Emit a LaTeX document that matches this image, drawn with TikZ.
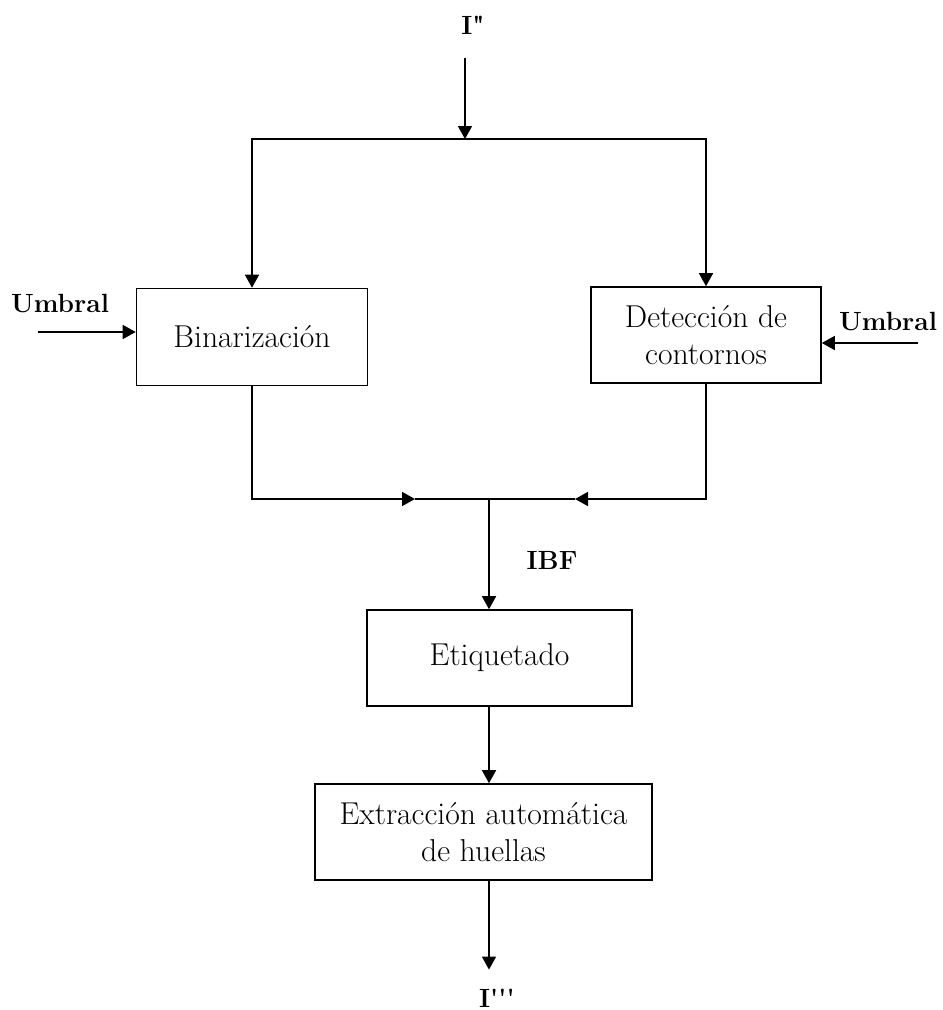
\documentclass[tikz,border=0pt]{standalone}
\usepackage{tikz}
\usetikzlibrary{arrows.meta}
\tikzstyle{boxes} = [rectangle, minimum height=1.94cm, text centered, align=center,
draw=black, line width=0.9pt, font=\fontsize{18}{21}\selectfont]
\tikzstyle{arrow} = [line width=0.9pt, -{Triangle[length=0.26cm,width=0.28cm]}]
\tikzstyle{wire} = [line width=0.9pt]
\tikzstyle{sig} = [font=\fontsize{15}{18}\selectfont\bfseries]

\begin{document}
\begin{tikzpicture}
        \useasboundingbox (0,0) rectangle (18.86,-20.2);

        \node[sig] (ii) at (9.46,-0.5) {I\textquotedbl};
        \node[boxes, minimum width=4.62cm, below of=ii, xshift=-4.42cm, yshift=-5.24cm] (bin) {Binarizaci\'on};
        \node[boxes, minimum width=4.6cm, minimum height=1.92cm, below of=ii, xshift=4.66cm, yshift=-5.2cm] (det) {Detecci\'on de\\contornos};
        \node[boxes, minimum width=5.3cm, minimum height=1.92cm, below of=ii, xshift=0.53cm, yshift=-11.66cm] (eti) {Etiquetado};
        \node[boxes, minimum width=6.74cm, minimum height=1.92cm, below of=eti, xshift=-0.32cm, yshift=-2.48cm] (ext) {Extracci\'on autom\'atica\\de huellas};
        \node[sig, below of=ext, xshift=0.27cm, yshift=-2.32cm] (iii) {I\textquotesingle\textquotesingle\textquotesingle};

        \node[sig, left of=bin, xshift=-2.84cm, yshift=0.66cm] (umbl) {Umbral};
        \node[sig, right of=det, xshift=2.64cm, yshift=0.26cm] (umbr) {Umbral};
        \node[sig, above of=eti, xshift=1.05cm, yshift=0.96cm] (ibf) {IBF};

        \coordinate (split) at (9.30,-2.78);
        \coordinate (join) at (9.78,-9.98);
        \coordinate (ml) at (8.30,-9.98);
        \coordinate (mr) at (11.50,-9.98);
        \coordinate (inl) at (0.76,-6.64);
        \coordinate (inr) at (18.36,-6.86);

        \draw[arrow, shorten <=0.35cm] (ii.south -| split) -- (split);
        \draw[arrow] (split) -| (bin.north);
        \draw[arrow] (split) -| (det.north);

        \draw[arrow] (inl) -- (inl -| bin.west);
        \draw[arrow] (inr) -- (inr -| det.east);

        \draw[arrow] (bin.south) |- (ml);
        \draw[wire] (ml) -- (join);
        \draw[arrow] (det.south) |- (mr);
        \draw[wire] (mr) -- (join);

        \draw[arrow] (join) -- (join |- eti.north);
        \draw[arrow] (join |- eti.south) -- (join |- ext.north);
        \draw[arrow, shorten >=0.26cm] (join |- ext.south) -- (join |- iii.north);

    \end{tikzpicture}
\end{document}
